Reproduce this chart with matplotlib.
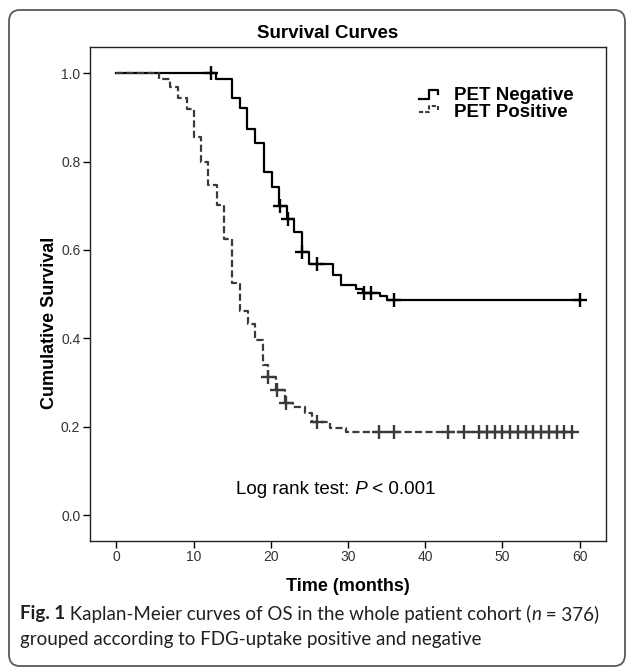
import numpy as np
import matplotlib
matplotlib.use("Agg")
import matplotlib.pyplot as plt
from matplotlib.patches import FancyBboxPatch
from matplotlib.lines import Line2D

# Kaplan-Meier steps (months, cumulative survival)
neg_times = [0, 12.9, 15.0, 16.0, 16.9, 18.0, 19.1, 20.1, 21.1, 22.1, 23.0, 24.0,
             25.0, 28.1, 29.1, 31.1, 32.0, 34.1, 35.1, 60.0]
neg_surv = [1.0, 0.988, 0.944, 0.922, 0.873, 0.843, 0.777, 0.743, 0.699, 0.669, 0.640, 0.596,
            0.568, 0.543, 0.520, 0.511, 0.503, 0.495, 0.487, 0.487]
neg_censor = [12.2, 21.2, 22.2, 24.1, 26.0, 32.1, 33.0, 36.0, 60.0]

pos_times = [0, 5.5, 7.0, 8.0, 9.1, 10.0, 11.0, 11.9, 13.0, 14.0, 15.0, 16.0, 17.0, 18.0,
             19.0, 19.6, 20.7, 21.9, 22.9, 24.4, 25.3, 27.7, 29.8, 59.3]
pos_surv = [1.0, 0.986, 0.968, 0.943, 0.918, 0.855, 0.799, 0.747, 0.701, 0.624, 0.526, 0.462,
            0.432, 0.397, 0.339, 0.312, 0.283, 0.254, 0.245, 0.230, 0.211, 0.196, 0.188, 0.188]
pos_censor = [19.7, 20.8, 22.0, 26.0, 34.0, 36.0, 43.0, 45.0,
              47, 48, 49, 50, 51, 52, 53, 54, 55, 56, 57, 58, 59]

x_ticks = [0, 10, 20, 30, 40, 50, 60]
y_ticks = [0.0, 0.2, 0.4, 0.6, 0.8, 1.0]
labels = ["PET Negative", "PET Positive"]

W, H = 627, 668
plt.rcParams["font.family"] = ["Liberation Sans", "DejaVu Sans"]

fig = plt.figure(figsize=(W / 100, H / 100), dpi=100)


def fx(px):
    return px / W


def fy(py):
    return 1 - py / H


def surv_at(times, surv, t):
    idx = np.searchsorted(times, t, side="right") - 1
    return np.asarray(surv)[idx]


def text_runs(x, y, runs, ha="left", **kw):
    # draw pieces of text with different styles one after another
    r = fig.canvas.get_renderer()
    texts, widths = [], []
    for s, style in runs:
        t = fig.text(0, y, s, va="center", **kw, **style)
        widths.append(t.get_window_extent(renderer=r).width / W)
        texts.append(t)
    if ha == "center":
        x -= sum(widths) / 2
    for t, w in zip(texts, widths):
        t.set_x(x)
        x += w


# outer rounded frame
fig.patches.append(FancyBboxPatch((fx(9), fy(666)), fx(616), fy(10) - fy(666),
                                  boxstyle="round,pad=0,rounding_size=0.017",
                                  transform=fig.transFigure, fill=False,
                                  edgecolor="#5a5a5a", linewidth=1.3))

ax = fig.add_axes([fx(90), fy(540.7), fx(606) - fx(90), fy(46.7) - fy(540.7)])

neg_col, pos_col = "black", "#3a3a3a"
ax.step(neg_times, neg_surv, where="post", color=neg_col, lw=1.6)
ax.plot(neg_censor, surv_at(neg_times, neg_surv, neg_censor), ls="none", marker="+",
        color=neg_col, ms=9.5, mew=1.7)

ax.step(pos_times, pos_surv, where="post", color=pos_col, lw=1.6, dashes=(3.2, 1.5))
ax.plot(pos_censor, surv_at(pos_times, pos_surv, pos_censor), ls="none", marker="+",
        color=pos_col, ms=9.5, mew=1.7)

ax.set_xlim(-3.4, 63.4)
ax.set_ylim(-0.058, 1.06)
ax.set_xticks(x_ticks)
ax.set_yticks(y_ticks)
ax.set_yticklabels([f"{v:.1f}" for v in y_ticks])
ax.tick_params(direction="out", length=5, width=1, labelsize=10, labelcolor="#333333", pad=2)
for sp in ax.spines.values():
    sp.set_linewidth(1.0)
    sp.set_color("#222222")

ax.set_xlabel("Time (months)", fontsize=13, fontweight="bold", va="center")
ax.xaxis.set_label_coords(0.5, -0.092)
ax.set_ylabel("Cumulative Survival", fontsize=13, fontweight="bold", va="center")
ax.yaxis.set_label_coords(-0.078, 0.44)

fig.text(fx(328), fy(34), "Survival Curves", fontsize=13.5, fontweight="bold",
         ha="center", va="center")

# legend with small step-shaped keys
fig.add_artist(Line2D([fx(419), fx(429), fx(429), fx(438), fx(438)],
                      [fy(98.5), fy(98.5), fy(89.5), fy(89.5), fy(93.5)],
                      transform=fig.transFigure, color=neg_col, lw=1.6))
fig.add_artist(Line2D([fx(419), fx(429), fx(429), fx(438), fx(438)],
                      [fy(112), fy(112), fy(106), fy(106), fy(110)],
                      transform=fig.transFigure, color=pos_col, lw=1.5, dashes=(2, 1)))
fig.text(fx(454), fy(96), labels[0], fontsize=13.5, fontweight="bold", va="center")
fig.text(fx(454), fy(112.5), labels[1], fontsize=13.5, fontweight="bold", va="center")

text_runs(fx(336), fy(490), [("Log rank test:", {}), (" P", {"style": "italic"}),
                             (" < 0.001", {})], ha="center", fontsize=13.5)

cap = {"family": ["Lato", "DejaVu Sans"], "fontsize": 13.5, "color": "#231f20"}
text_runs(fx(20), fy(614), [("Fig. 1", {"fontweight": "bold"}),
                            (" Kaplan-Meier curves of OS in the whole patient cohort (", {}),
                            ("n", {"style": "italic"}), (" = 376)", {})], **cap)
text_runs(fx(20), fy(640), [("grouped according to FDG-uptake positive and negative", {})], **cap)

fig.savefig("out.png", dpi=100)
